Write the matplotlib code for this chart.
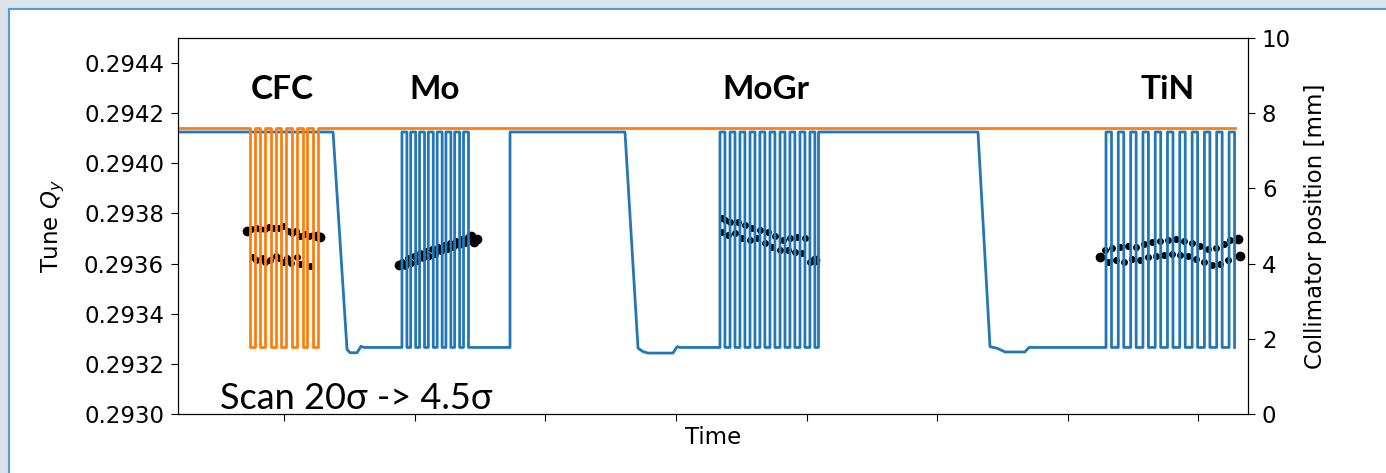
import matplotlib.pyplot as plt
from matplotlib.patches import Rectangle

# time in arbitrary units (ticks every 10), collimator positions in mm
t_start = 1.84
t_end = 82.80
pos_out = 7.5      # blue collimator parked position
pos_out_cfc = 7.6  # orange collimator parked position
pos_in = 1.77      # position during the scan steps

# orange (CFC) collimator: steps in from the parked position
cfc_steps = [7.36, 8.16, 8.97, 9.77, 10.58, 11.38, 12.19]
cfc_width = 0.38

# blue collimator: steps out from the scan position
mo_steps = [19.00, 19.67, 20.35, 21.02, 21.70, 22.37, 23.04, 23.72]
mogr_steps = [43.37, 44.14, 44.90, 45.67, 46.43, 47.20, 47.97, 48.73, 49.50, 50.26]
tin_steps = [72.95, 73.89, 74.84, 75.78, 76.72, 77.66, 78.60, 79.55, 80.49, 81.43, 82.38]
step_width = 0.38
tin_width = 0.42

# slow moves between the materials
move1_t = [t_start, 13.72, 14.79, 15.02, 15.56, 15.86, 16.09]
move1_mm = [7.5, 7.5, 1.72, 1.63, 1.63, 1.80, 1.77]
move2_t = [27.28, 27.28, 36.09, 37.09, 37.47, 37.85, 39.77, 40.08, 40.31]
move2_mm = [1.77, 7.5, 7.5, 1.75, 1.66, 1.62, 1.62, 1.79, 1.77]
move3_t = [50.92, 50.92, 63.14, 64.06, 64.60, 65.21, 66.74, 67.05]
move3_mm = [1.77, 7.5, 7.5, 1.79, 1.75, 1.65, 1.65, 1.77]

# measured tune
cfc_t = [7.13, 7.43, 7.82, 8.12, 8.51, 8.81, 9.12, 9.58, 9.89, 10.27, 10.57, 10.88, 11.19, 11.57, 11.88, 12.18,
         7.59, 7.82, 8.28, 8.51, 8.89, 9.35, 9.58, 9.89, 10.19, 10.50, 10.96, 11.19, 11.95]
cfc_q = [0.293729, 0.293737, 0.293741, 0.293737, 0.293737, 0.293745, 0.293741, 0.293741, 0.293749, 0.293729,
         0.293721, 0.293729, 0.293709, 0.293717, 0.293709, 0.293713,
         0.293626, 0.293614, 0.293622, 0.293606, 0.293614, 0.293630, 0.293622, 0.293606, 0.293622, 0.293602,
         0.293626, 0.293598, 0.293590]
mo_t = [19.00, 19.23, 19.46, 19.69, 19.92, 20.15, 20.38, 20.61, 20.84, 21.07, 21.30, 21.53, 21.76, 21.99,
        22.22, 22.45, 22.68, 22.91, 23.14, 23.37, 23.60, 23.83, 24.06]
mo_q = [0.293606, 0.293590, 0.293622, 0.293602, 0.293630, 0.293610, 0.293642, 0.293622, 0.293650, 0.293630,
        0.293658, 0.293638, 0.293665, 0.293650, 0.293673, 0.293658, 0.293681, 0.293665, 0.293689, 0.293673,
        0.293697, 0.293681, 0.293705]
mogr_t = [43.52, 43.75, 44.14, 44.75, 45.29, 45.82, 46.44, 47.05, 47.59, 48.20, 48.74, 49.27, 49.89,
          43.52, 43.98, 44.52, 45.06, 45.67, 46.21, 46.82, 47.36, 47.97, 48.58, 49.12, 49.66, 50.27]
mogr_q = [0.293781, 0.293773, 0.293765, 0.293765, 0.293753, 0.293741, 0.293733, 0.293725, 0.293709, 0.293693,
          0.293701, 0.293705, 0.293701,
          0.293725, 0.293713, 0.293721, 0.293701, 0.293693, 0.293701, 0.293681, 0.293665, 0.293654, 0.293654,
          0.293646, 0.293642, 0.293606]
tin_t = [72.87, 73.41, 74.02, 74.64, 75.25, 75.86, 76.48, 77.09, 77.70, 78.31, 78.93, 79.54, 80.15, 80.77,
         81.38, 81.99, 82.45,
         73.10, 73.72, 74.33, 74.94, 75.56, 76.17, 76.78, 77.39, 78.01, 78.62, 79.23, 79.85, 80.46, 81.07,
         81.69, 82.30]
tin_q = [0.293654, 0.293662, 0.293665, 0.293669, 0.293665, 0.293677, 0.293685, 0.293689, 0.293693, 0.293697,
         0.293689, 0.293681, 0.293669, 0.293658, 0.293662, 0.293677, 0.293693,
         0.293606, 0.293614, 0.293606, 0.293618, 0.293614, 0.293626, 0.293630, 0.293634, 0.293638, 0.293634,
         0.293630, 0.293618, 0.293606, 0.293594, 0.293598, 0.293614]
end_t = [7.13, 12.49, 12.72, 18.77, 24.29, 24.52, 24.75, 72.49, 83.07, 83.22, 50.65]
end_q = [0.293729, 0.293709, 0.293705, 0.293594, 0.293709, 0.293685, 0.293697, 0.293626, 0.293697, 0.293630,
         0.293614]

materials = ['CFC', 'Mo', 'MoGr', 'TiN']
label_t = [9.81, 21.53, 46.90, 77.70]
label_mm = 8.62


def add_steps(ts, ys, starts, width, base, top):
    for s in starts:
        ts += [s, s, s + width, s + width]
        ys += [base, top, top, base]


blue_t, blue_mm = list(move1_t), list(move1_mm)
add_steps(blue_t, blue_mm, mo_steps, step_width, pos_in, pos_out)
blue_t += move2_t
blue_mm += move2_mm
add_steps(blue_t, blue_mm, mogr_steps, step_width, pos_in, pos_out)
blue_t += move3_t
blue_mm += move3_mm
add_steps(blue_t, blue_mm, tin_steps, tin_width, pos_in, pos_out)

orange_t, orange_mm = [t_start], [pos_out_cfc]
add_steps(orange_t, orange_mm, cfc_steps, cfc_width, pos_out_cfc, pos_in)
orange_t.append(t_end)
orange_mm.append(pos_out_cfc)

plt.rcParams['font.size'] = 16.5
plt.rcParams['xtick.major.size'] = 5
plt.rcParams['ytick.major.size'] = 5
plt.rcParams['ytick.major.pad'] = 5
fig = plt.figure(figsize=(13.86, 4.73), dpi=100, facecolor='#dbe3ec')
frame = Rectangle((9 / 1386, -0.1), 1.2, 1.1 - 9 / 473, transform=fig.transFigure,
                  facecolor='white', edgecolor='#5b9bd5', linewidth=1.5, zorder=-10)
fig.patches.append(frame)

ax = fig.add_axes([178 / 1386, 1 - 414 / 473, 1070 / 1386, 376 / 473])
ax.scatter(cfc_t + mo_t + mogr_t + tin_t, cfc_q + mo_q + mogr_q + tin_q, s=16, color='black', zorder=3)
ax.scatter(end_t, end_q, s=36, color='black', zorder=3)
ax.set_ylim(0.2930, 0.2945)
ax.set_yticks([0.2930, 0.2932, 0.2934, 0.2936, 0.2938, 0.2940, 0.2942, 0.2944])
ax.set_yticklabels(['0.2930', '0.2932', '0.2934', '0.2936', '0.2938', '0.2940', '0.2942', '0.2944'])
ax.set_xlim(t_start, 83.83)
ax.set_xticks(range(10, 90, 10))
ax.set_xticklabels([])
ax.set_xlabel('Time', labelpad=0)
ax.set_ylabel('Tune $Q_y$', labelpad=12)

ax2 = ax.twinx()
ax2.plot(blue_t, blue_mm, color='#2377b6', lw=2.0)
ax2.plot(orange_t, orange_mm, color='#ff7f0e', lw=2.0)
ax2.set_ylim(0, 10)
ax2.set_ylabel('Collimator position [mm]', labelpad=9)

for name, tx in zip(materials, label_t):
    ax2.text(tx, label_mm, name, ha='center', va='center', fontsize=24, fontweight='bold',
             family=['Lato', 'DejaVu Sans'])
ax2.text(5.06, 0.12, 'Scan 20σ -> 4.5σ', ha='left', va='baseline', fontsize=26,
         family=['Lato', 'DejaVu Sans'])

fig.savefig('out.png', dpi=100, facecolor=fig.get_facecolor())
